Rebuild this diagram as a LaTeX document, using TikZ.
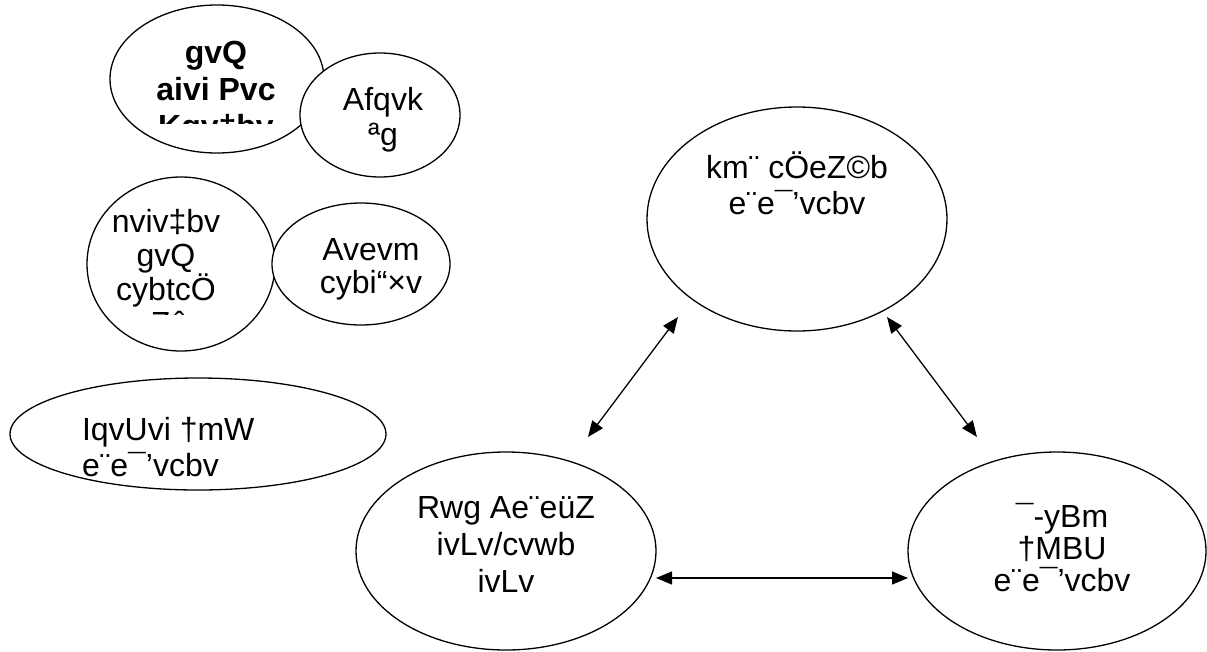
\documentclass[tikz,border=0pt]{standalone}
\usepackage{fontspec}
\setmainfont{Liberation Sans}
\usetikzlibrary{shapes.geometric,arrows.meta}
\newcommand\myfl{\rule{0pt}{30pt}}
\begin{document}
\begin{tikzpicture}[x=1pt,y=-1pt,
  ell/.style={ellipse,draw,line width=1.3pt,fill=white,inner sep=0pt,outer sep=0pt},
  txt/.style={inner sep=0pt,outer sep=0pt,align=center,anchor=north,font=\fontsize{32}{36}\selectfont},
  conn/.style={{Triangle[length=16pt,width=13pt]}-{Triangle[length=16pt,width=13pt]},line width=1.3pt}]
\useasboundingbox (0,0) rectangle (1207,651);
% top-left cluster
\node[ell,minimum width=214pt,minimum height=148pt] (e1) at (217,79) {};
\begin{scope}
\clip (100,0) rectangle (340,123);
\node[txt,font=\fontsize{32}{37}\selectfont\bfseries] (t1) at (216,33) {\myfl gvQ\\aivi Pvc\\Kgv‡bv};
\end{scope}
\node[ell,minimum width=160pt,minimum height=124pt] (e2) at (380,115) {};
\node[txt,font=\fontsize{32}{35}\selectfont] (t2) at (383,80) {\myfl Afqvk\\ªg};
% middle-left cluster
\node[ell,minimum width=188pt,minimum height=174pt] (e3) at (181,264) {};
\begin{scope}
\clip (80,170) rectangle (280,314);
\node[txt,font=\fontsize{32}{34}\selectfont] (t3) at (166,202) {\myfl nviv‡bv\\gvQ\\cybtcÖ\\wZôv};
\end{scope}
\node[ell,minimum width=178pt,minimum height=122pt] (e4) at (361,264) {};
\node[txt,font=\fontsize{32}{33}\selectfont] (t4) at (371,230) {\myfl Avevm\\cybi“×v};
% lower-left
\node[ell,minimum width=376pt,minimum height=112pt] (e5) at (198,434) {};
\node[txt,align=left,anchor=north west] (t5) at (82,410) {\myfl IqvUvi †mW\\e¨e¯’vcbv};
% right triangle
\node[ell,minimum width=300pt,minimum height=224pt] (e6) at (797,219) {};
\node[txt] (t6) at (797,148) {\myfl km¨ cÖeZ©b\\e¨e¯’vcbv};
\node[ell,minimum width=300pt,minimum height=198pt] (e7) at (506,551) {};
\node[txt,font=\fontsize{32}{37}\selectfont] (t7) at (506,488) {\myfl Rwg Ae¨eüZ\\ivLv/cvwb\\ivLv};
\node[ell,minimum width=298pt,minimum height=198pt] (e8) at (1057,551) {};
\node[txt,font=\fontsize{32}{32}\selectfont] (t8) at (1062,497) {\myfl ¯-yBm\\†MBU\\e¨e¯’vcbv};
% connectors
\coordinate (a1s) at (588,437);
\coordinate (a1e) at (678,317);
\coordinate (a2s) at (887,317);
\coordinate (a2e) at (977,437);
\coordinate (a3s) at (656,578);
\coordinate (a3e) at (908,578);
\draw[conn] (a1s) -- (a1e);
\draw[conn] (a2s) -- (a2e);
\draw[conn] (a3s) -- (a3e);
\end{tikzpicture}
\end{document}
